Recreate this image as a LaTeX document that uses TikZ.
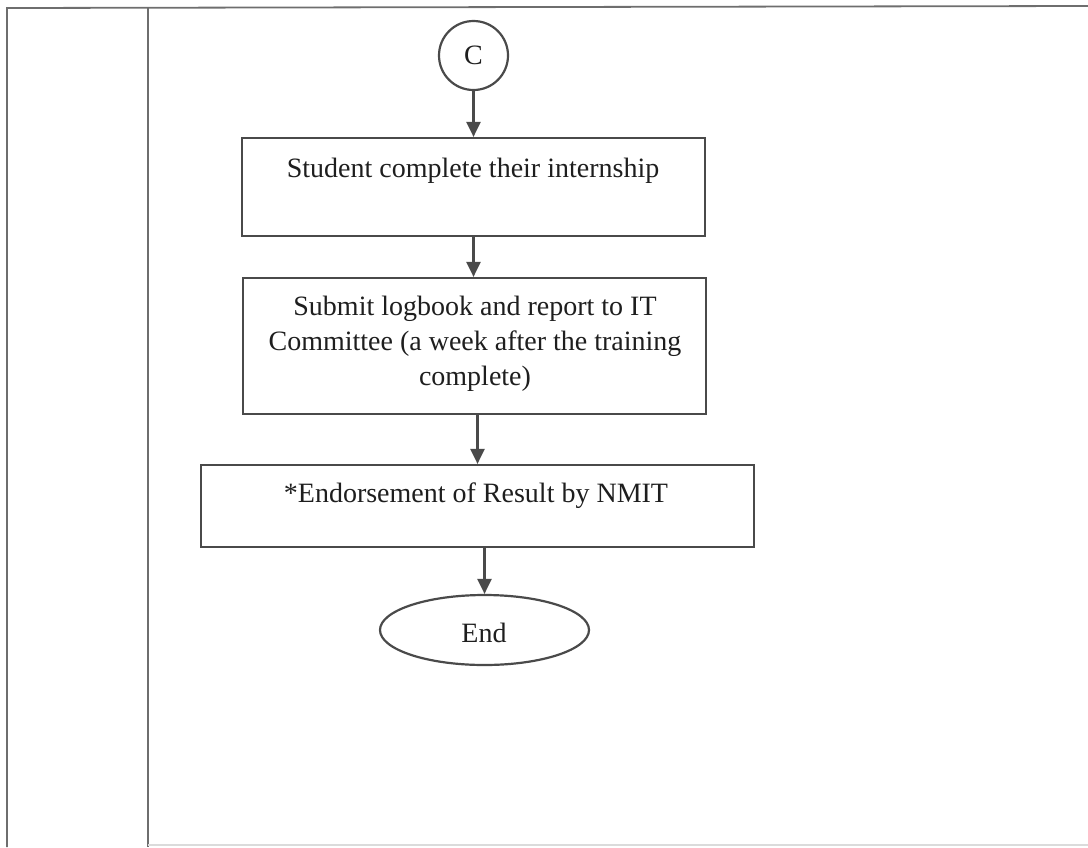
\documentclass[tikz,border=0pt]{standalone}
\usepackage{fontspec}
\setmainfont{Liberation Serif}
\usepackage{xcolor}
\usetikzlibrary{shapes.geometric,arrows.meta}
\definecolor{myline}{HTML}{4A4A4A}
\definecolor{myframe}{HTML}{6E6E6E}
\definecolor{mytext}{HTML}{1E1E1E}
\pgfkeys{tikz/myflowenv/.style={x=1pt,y=-1pt,line width=2.2pt,font=\fontsize{28}{35}\selectfont,text=mytext}}
\pgfkeys{tikz/myflowbox/.style={draw=myline,rectangle,inner sep=0pt}}
\pgfkeys{tikz/myflowtext/.style={inner sep=0pt,align=center}}
\pgfkeys{tikz/myflowarrow/.style={draw=myline,line width=2.4pt,-{Triangle[length=15pt,width=14pt]}}}
\pgfkeys{tikz/myframeline/.style={draw=myframe,line width=1.8pt}}
\newcommand*\myflowbox[4]{
    \node[myflowbox,minimum width=#3pt,minimum height=#4pt] (#1) at (#2) {};
}

\begin{document}
\begin{tikzpicture}[myflowenv]
    \useasboundingbox (0,0) rectangle (1088,847);
    \coordinate (fnw) at (7,8);
    \coordinate (fne) at (1088,6);
    \coordinate (fsw) at (7,847);
    \coordinate (fmn) at (148,7.5);
    \coordinate (fms) at (148,847);
    \coordinate (fbw) at (148,845);
    \coordinate (fbe) at (1088,845);
    \draw[myframeline] (fsw) -- (fnw) -- (fne);
    \draw[myframeline] (fmn) -- (fms);
    \draw[draw=myframe!25,line width=1.2pt] (fbw) -- (fbe);

    \node[draw=myline,circle,minimum size=69pt,inner sep=0pt] (C) at (473.5,55.5) {C};
    \myflowbox{intern}{473.5,187}{463}{98}
    \myflowbox{submit}{474.5,346}{463}{136}
    \myflowbox{nmit}{477.5,506}{553}{82}
    \node[draw=myline,ellipse,minimum width=209pt,minimum height=70pt,inner sep=0pt] (End) at (484.5,630) {};

    \node[myflowtext,anchor=base] (internt) at (473,177) {Student complete their internship};
    \node[myflowtext] (submitt) at (475,343.5) {Submit logbook and report to IT\\Committee (a week after the training\\complete)};
    \node[myflowtext,anchor=base] (nmitt) at (476,502) {*Endorsement of Result by NMIT};
    \node[myflowtext,anchor=base] (Endt) at (484,642) {End};

    \draw[myflowarrow] (C.south) -- (C.south |- intern.north);
    \draw[myflowarrow] (intern.south -| C) -- (C |- submit.north);
    \draw[myflowarrow] (nmit.north |- submit.south) -- (nmit.north);
    \draw[myflowarrow] (End.north |- nmit.south) -- (End.north);
\end{tikzpicture}
\end{document}
